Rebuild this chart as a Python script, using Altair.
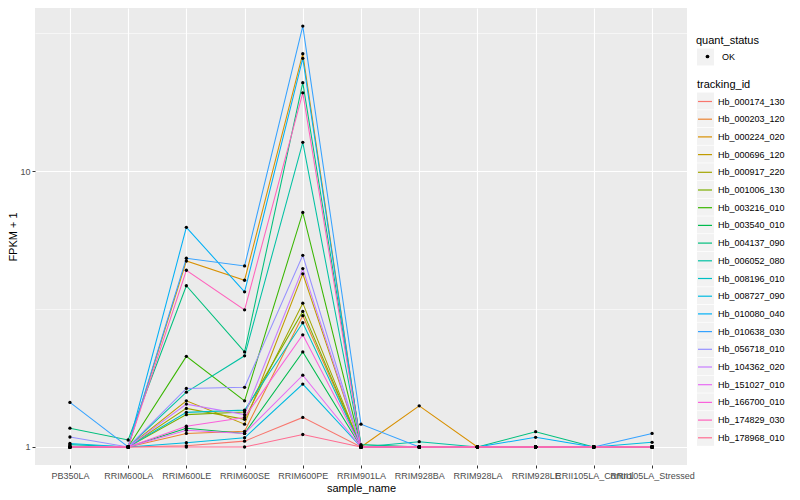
import altair as alt
import pandas as pd

samples = ["PB350LA", "RRIM600LA", "RRIM600LE", "RRIM600SE", "RRIM600PE",
           "RRIM901LA", "RRIM928BA", "RRIM928LA", "RRIM928LE",
           "RRII105LA_Control", "RRII105LA_Stressed"]

tracking_ids = ["Hb_000174_130", "Hb_000203_120", "Hb_000224_020", "Hb_000696_120",
                "Hb_000917_220", "Hb_001006_130", "Hb_003216_010", "Hb_003540_010",
                "Hb_004137_090", "Hb_006052_080", "Hb_008196_010", "Hb_008727_090",
                "Hb_010080_040", "Hb_010638_030", "Hb_056718_010", "Hb_104362_020",
                "Hb_151027_010", "Hb_166700_010", "Hb_174829_030", "Hb_178968_010"]

palette = ["#F8766D", "#EA8331", "#D89000", "#C09B00", "#A3A500", "#7CAE00",
           "#39B600", "#00BB4E", "#00BF7D", "#00C1A3", "#00BFC4", "#00BAE0",
           "#00B0F6", "#35A2FF", "#9590FF", "#C77CFF", "#E76BF3", "#FA62DB",
           "#FF62BC", "#FF6C91"]

# FPKM + 1 per tracking id, in sample order
Hb_000174_130 = [1, 1, 1.01, 1.05, 1.28, 1, 1, 1, 1, 1, 1]
Hb_000203_120 = [1, 1, 1.12, 1.14, 2.99, 1, 1, 1, 1, 1, 1]
Hb_000224_020 = [1, 1, 4.72, 4.02, 26.6, 1, 1.41, 1, 1, 1, 1]
Hb_000696_120 = [1, 1, 1.47, 1.21, 4.24, 1, 1, 1, 1, 1, 1]
Hb_000917_220 = [1, 1, 1.38, 1.26, 3.32, 1, 1, 1, 1, 1, 1]
Hb_001006_130 = [1, 1, 1.31, 1.34, 3.10, 1, 1, 1, 1, 1, 1]
Hb_003216_010 = [1, 1, 2.13, 1.47, 7.08, 1, 1, 1, 1, 1, 1]
Hb_003540_010 = [1, 1, 1.17, 1.12, 2.21, 1, 1, 1, 1, 1, 1]
Hb_004137_090 = [1.17, 1.06, 3.84, 2.21, 20.9, 1.02, 1, 1, 1.136, 1, 1]
Hb_006052_080 = [1.02, 1, 1.58, 2.14, 12.7, 1, 1.045, 1, 1, 1, 1]
Hb_008196_010 = [1, 1, 1.335, 1.36, 2.82, 1, 1, 1, 1, 1, 1]
Hb_008727_090 = [1.03, 1, 1.036, 1.08, 1.69, 1, 1, 1, 1, 1, 1.04]
Hb_010080_040 = [1, 1, 6.25, 3.65, 25.6, 1, 1, 1, 1.084, 1, 1]
Hb_010638_030 = [1.45, 1, 4.83, 4.53, 33.5, 1.21, 1, 1, 1, 1, 1.12]
Hb_056718_010 = [1.087, 1, 1.63, 1.645, 4.95, 1, 1, 1, 1, 1, 1]
Hb_104362_020 = [1, 1, 1.43, 1.31, 4.43, 1, 1, 1, 1, 1, 1]
Hb_151027_010 = [1, 1, 1.15, 1.12, 1.82, 1, 1, 1, 1, 1, 1]
Hb_166700_010 = [1, 1, 1.19, 1.28, 2.55, 1, 1, 1, 1, 1, 1]
Hb_174829_030 = [1, 1, 4.37, 3.14, 19.2, 1, 1, 1, 1, 1, 1]
Hb_178968_010 = [1, 1, 1.0, 1.0, 1.11, 1, 1, 1, 1, 1, 1]

series = [Hb_000174_130, Hb_000203_120, Hb_000224_020, Hb_000696_120,
          Hb_000917_220, Hb_001006_130, Hb_003216_010, Hb_003540_010,
          Hb_004137_090, Hb_006052_080, Hb_008196_010, Hb_008727_090,
          Hb_010080_040, Hb_010638_030, Hb_056718_010, Hb_104362_020,
          Hb_151027_010, Hb_166700_010, Hb_174829_030, Hb_178968_010]

rows = []
for tid, vals in zip(tracking_ids, series):
    for i, (s, v) in enumerate(zip(samples, vals)):
        rows.append({"sample_name": s, "sample_order": i, "tracking_id": tid,
                     "key_id": tid, "fpkm1": v, "quant_status": "OK",
                     "key_status": "OK"})
df = pd.DataFrame(rows)

FONT = "Liberation Sans"
KEY_GREY = "#F2F2F2"
MAJOR = "(datum.value > 0.9 && datum.value < 1.1) || (datum.value > 9 && datum.value < 11)"

x_enc = alt.X("sample_name:N", sort=samples,
              scale=alt.Scale(type="point", padding=0.6),
              axis=alt.Axis(title="sample_name", labelAngle=0, labelOverlap=False,
                            labelPadding=3, titlePadding=2, grid=True))
y_enc = alt.Y("fpkm1:Q",
              scale=alt.Scale(type="log", domain=[0.8605, 38.96], nice=False, zero=False),
              axis=alt.Axis(title="FPKM + 1", values=[1, 3.16228, 10, 31.6228],
                            labelExpr="(datum.value > 0.9 && datum.value < 1.1) ? '1' : ((datum.value > 9 && datum.value < 11) ? '10' : '')",
                            gridWidth={"condition": {"test": MAJOR, "value": 1.1}, "value": 0.55},
                            tickColor={"condition": {"test": MAJOR, "value": "#333333"}, "value": "transparent"},
                            labelPadding=2, titlePadding=1))

# invisible layer whose legends give the grey key backgrounds
keys = alt.Chart(df).mark_square(opacity=0, size=1).encode(
    x=x_enc,
    y=y_enc,
    fill=alt.Fill("key_id:N", sort=tracking_ids,
                  scale=alt.Scale(range=[KEY_GREY] * len(tracking_ids)),
                  legend=alt.Legend(title=None, labelExpr="''",
                                    orient="none", legendX=662, legendY=84.5,
                                    symbolType="square", symbolSize=289,
                                    symbolStrokeWidth=0, symbolOpacity=1,
                                    rowPadding=0.7, labelOffset=0,
                                    padding=0, zindex=1)),
    stroke=alt.Stroke("key_status:N",
                      scale=alt.Scale(range=[KEY_GREY]),
                      legend=alt.Legend(title=None, labelExpr="''",
                                        orient="none", legendX=662, legendY=40.5,
                                        symbolType="square", symbolSize=289,
                                        symbolFillColor=KEY_GREY, symbolStrokeWidth=0,
                                        symbolOpacity=1, labelOffset=0,
                                        padding=0, zindex=1)),
)

lines = alt.Chart(df).mark_line(strokeWidth=1.05).encode(
    x=x_enc,
    y=y_enc,
    color=alt.Color("tracking_id:N", sort=tracking_ids,
                    scale=alt.Scale(domain=tracking_ids, range=palette),
                    legend=alt.Legend(title="tracking_id", orient="none",
                                      legendX=662, legendY=71,
                                      symbolType="stroke", symbolSize=196,
                                      symbolStrokeWidth=1.2, rowPadding=4.7,
                                      titlePadding=3.5, labelOffset=5,
                                      padding=0, zindex=2)),
    order=alt.Order("sample_order:Q"),
)

points = alt.Chart(df).mark_point(filled=True, size=11, opacity=1, color="black").encode(
    x=x_enc,
    y=y_enc,
    shape=alt.Shape("quant_status:N",
                    scale=alt.Scale(domain=["OK"], range=["circle"]),
                    legend=alt.Legend(title="quant_status", orient="none",
                                      legendX=661, legendY=27,
                                      symbolFillColor="black", symbolStrokeColor="black",
                                      symbolSize=14, symbolOffset=7, labelOffset=10,
                                      titlePadding=6, padding=0, zindex=2)),
)

chart = alt.layer(keys, lines, points).properties(
    width=652, height=457,
    autosize=alt.AutoSizeParams(type="none"),
    padding={"left": 27, "top": 0, "right": 105, "bottom": 35},
    background="white",
).resolve_legend(
    fill="independent", stroke="independent", color="independent", shape="independent"
).configure_view(
    fill="#EBEBEB", strokeWidth=0
).configure_axis(
    labelFont=FONT, labelFontSize=9, labelColor="#4D4D4D",
    titleFont=FONT, titleFontSize=11, titleFontWeight="normal", titleColor="black",
    tickColor="#333333", tickSize=3, tickWidth=1, domain=False,
    gridColor="white", gridWidth=1.1,
).configure_legend(
    titleFont=FONT, titleFontSize=11, titleFontWeight="normal", titleColor="black",
    labelFont=FONT, labelFontSize=9, labelColor="black",
)

chart.save("out.html", embed_options={"renderer": "svg", "actions": False})
